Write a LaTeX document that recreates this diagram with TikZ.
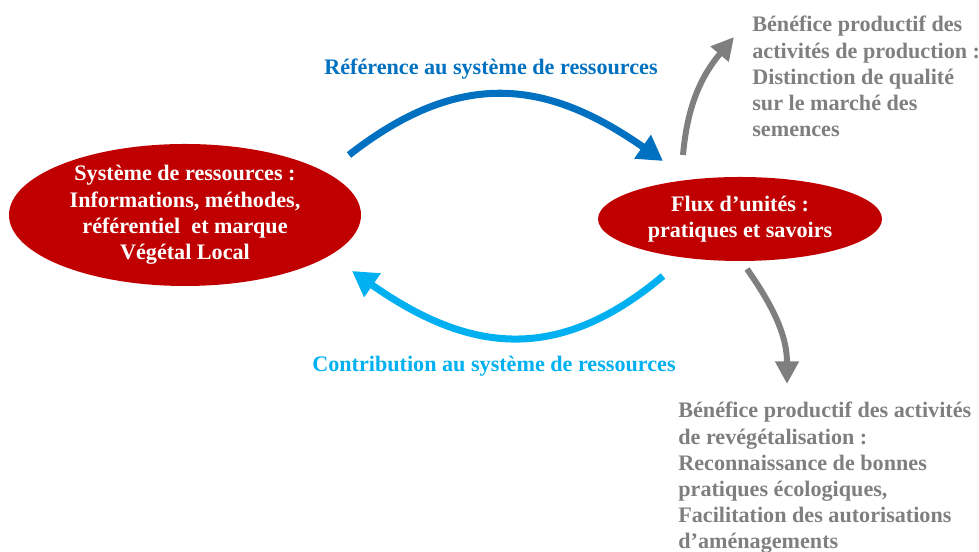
\documentclass[tikz,border=0pt]{standalone}
\usepackage{fontspec}
\setmainfont{Liberation Serif}
\usetikzlibrary{arrows.meta, shapes.geometric, positioning, calc}
\definecolor{rougepole}{HTML}{C00000}
\definecolor{bleuref}{HTML}{0070C0}
\definecolor{bleucontrib}{HTML}{00B0F0}
\definecolor{grisbenef}{HTML}{7F7F7F}

\begin{document}
\begin{tikzpicture}[
    every node/.style={font=\bfseries\fontsize{12.6}{14.9}\selectfont},
    pole/.style={ellipse, fill=rougepole, text=white, align=center, inner sep=0pt},
    flux/.style={line width=4pt, looseness=1.15, -{Triangle[length=0.5cm, width=0.55cm]}},
    benef/.style={line width=3.4pt, grisbenef, -{Triangle[length=0.45cm, width=0.45cm]}},
    legende/.style={text=grisbenef, align=left, anchor=north west, inner sep=0pt}
  ]
  \useasboundingbox (0, 0) rectangle (19.58, 11.04);

  \node[pole, minimum width=7.04cm, minimum height=2.84cm] (ressources) at (3.7, 6.74)
    {Système de ressources :\\Informations, méthodes,\\référentiel~ et marque\\Végétal Local};
  \node[pole, minimum width=5.68cm, minimum height=1.68cm] (flux) at (14.8, 6.66)
    {Flux d’unités :\\pratiques et savoirs};

  \node[text=bleuref] (reference) at (9.82, 9.66) {Référence au système de ressources};
  \node[text=bleucontrib] (contribution) at (9.88, 3.72) {Contribution au système de ressources};

  \node[legende] (production) at (15.04, 10.72)
    {Bénéfice productif des\\activités de production :\\Distinction de qualité\\sur le marché des\\semences};
  \node[legende] (revegetalisation) at (13.56, 3.0)
    {Bénéfice productif des activités\\de revégétalisation :\\Reconnaissance de bonnes\\pratiques écologiques,\\Facilitation des autorisations\\d’aménagements};

  \coordinate (refdep) at (6.98, 7.94);
  \coordinate (refarr) at (13.26, 7.82);
  \coordinate (contdep) at (13.26, 5.52);
  \coordinate (contarr) at (7.04, 5.62);
  \coordinate (proddep) at (13.66, 7.94);
  \coordinate (prodarr) at (14.68, 10.3);
  \coordinate (revdep) at (14.94, 5.66);
  \coordinate (revarr) at (15.74, 3.36);

  \draw[flux, bleuref] (refdep) to[out=38, in=145] (refarr);
  \draw[flux, bleucontrib] (contdep) to[out=-140, in=-35] (contarr);
  \draw[benef] (proddep) to[out=85, in=-130] (prodarr);
  \draw[benef] (revdep) to[out=-55, in=90] (revarr);
\end{tikzpicture}
\end{document}
